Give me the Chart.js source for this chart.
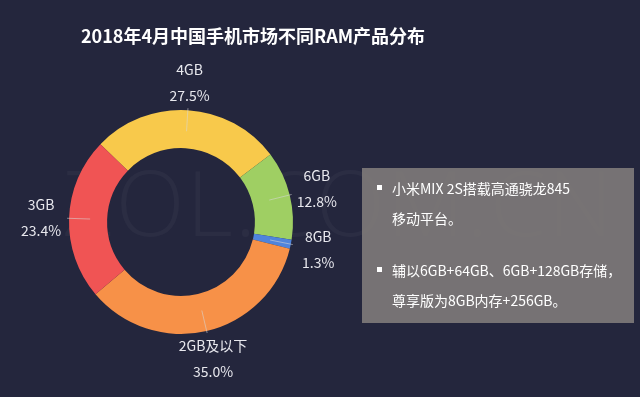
<!DOCTYPE html>
<html>
<head>
<meta charset="utf-8">
<script src="https://cdn.jsdelivr.net/npm/chart.js@4.4.0/dist/chart.umd.min.js"></script>
<style>
    body { margin: 0; background: #24263d; }
    .wrap { position: relative; width: 640px; height: 397px; overflow: hidden; font-family: "Noto Sans CJK SC", "Noto Sans", sans-serif; }
    .title { position: absolute; left: 0; width: 506px; top: 21px; text-align: center; color: #fff; font-size: 18px; font-weight: bold; line-height: 28px; }
    .mark { position: absolute; left: 62px; top: 140px; font-size: 90px; font-family: "Open Sans", sans-serif; font-weight: 300; color: rgba(255,255,255,0.035); letter-spacing: 2px; }
    canvas { position: absolute; left: 0; top: 0; }
    .note { position: absolute; left: 362px; top: 168px; width: 272px; height: 155px; background: rgba(125,121,120,0.93); color: #fff; font-size: 14px; }
    .note p { position: relative; margin: 0; padding-left: 30px; line-height: 30px; }
    .note p::before { content: ''; position: absolute; left: 15px; top: 12px; width: 5px; height: 5px; background: #fff; }
</style>
</head>
<body>
<div class="wrap">
    <div class="mark">ZOL.COM.CN</div>
    <canvas id="ramChart" width="640" height="397"></canvas>
    <div class="title">2018年4月中国手机市场不同RAM产品分布</div>
    <div class="note">
        <p style="margin-top: 5px;">小米MIX 2S搭载高通骁龙845<br>移动平台。</p>
        <p style="margin-top: 22px;">辅以6GB+64GB、6GB+128GB存储，<br>尊享版为8GB内存+256GB。</p>
    </div>
</div>
<script>
// data
const ramLabels = ['4GB', '6GB', '8GB', '2GB及以下', '3GB'];
const ramShares = [27.5, 12.8, 1.3, 35.0, 23.4];
const ramColors = ['#f8c94b', '#9fcf63', '#4f84dc', '#f79148', '#f05454'];

// labels outside the ring with a short leader line
const outsideLabels = {
    id: 'outsideLabels',
    afterDatasetsDraw(chart) {
        const c = chart.ctx;
        const meta = chart.getDatasetMeta(0);
        c.save();
        meta.data.forEach((arc, i) => {
            const mid = (arc.startAngle + arc.endAngle) / 2;
            const cos = Math.cos(mid), sin = Math.sin(mid);

            c.strokeStyle = 'rgba(215,215,215,0.55)';
            c.lineWidth = 1;
            c.beginPath();
            c.moveTo(arc.x + cos * (arc.innerRadius + 17), arc.y + sin * (arc.innerRadius + 17));
            c.lineTo(arc.x + cos * (arc.outerRadius + 2), arc.y + sin * (arc.outerRadius + 2));
            c.stroke();

            const lx = arc.x + cos * (arc.outerRadius + 28);
            const ly = arc.y + sin * (arc.outerRadius + 28);
            c.fillStyle = '#e8e8ee';
            c.font = '14px "Noto Sans CJK SC", sans-serif';
            c.textAlign = 'center';
            c.textBaseline = 'middle';
            c.fillText(ramLabels[i], lx, ly - 13);
            c.fillText(ramShares[i].toFixed(1) + '%', lx, ly + 13);
        });
        c.restore();
    }
};

new Chart(document.getElementById('ramChart'), {
    type: 'doughnut',
    data: {
        labels: ramLabels,
        datasets: [{
            data: ramShares,
            backgroundColor: ramColors,
            borderWidth: 0
        }]
    },
    options: {
        responsive: false,
        animation: false,
        rotation: -46,
        cutout: '66%',
        layout: {
            padding: { left: 69, right: 347, top: 110, bottom: 63 }
        },
        plugins: {
            legend: { display: false },
            tooltip: { enabled: false }
        }
    },
    plugins: [outsideLabels]
});
</script>
</body>
</html>
